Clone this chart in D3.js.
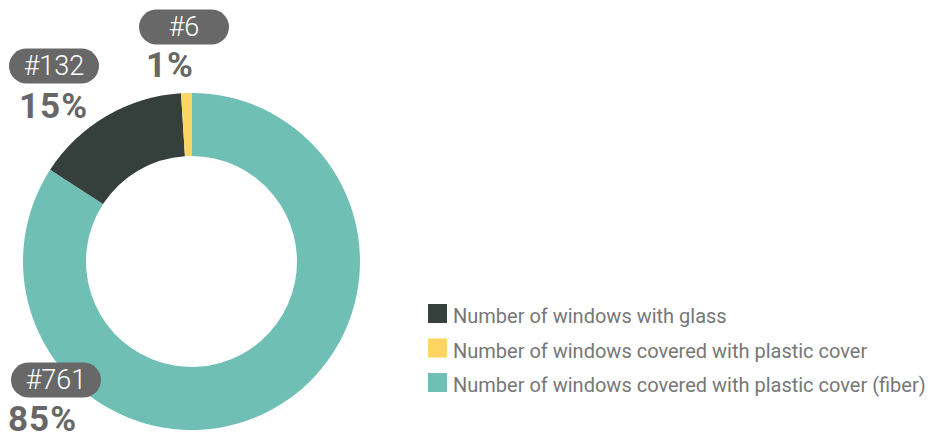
<!DOCTYPE html>
<html>
<head>
<meta charset="utf-8">
<script src="https://cdn.jsdelivr.net/npm/d3@7"></script>
<style>
  html, body { margin: 0; padding: 0; background: #fff; }
  svg { display: block; }
</style>
</head>
<body>
<svg id="chart" width="933" height="437"></svg>
<script>
// Window counts by covering type (drawing order around the ring, clockwise from 12 o'clock)
const categories = [
  "Number of windows covered with plastic cover (fiber)",
  "Number of windows with glass",
  "Number of windows covered with plastic cover"
];
const counts = [761, 132, 6];
const percents = [85, 15, 1];
const colors = ["#6fbfb5", "#353f3c", "#fed462"];

// Legend lists the categories in this order
const legendOrder = [1, 2, 0];

// Where each value label sits (pill centre, percent text start/baseline)
const labelLayout = [
  { pill: [56, 380], pct: [8, 431] },
  { pill: [54, 66], pct: [19, 118] },
  { pill: [184, 27], pct: [146, 77] }
];

const svg = d3.select("#chart");
const cx = 191.5, cy = 261.5, outerR = 168.5, innerR = 105.5;

const pie = d3.pie().sort(null).value(d => d.pct);
const arc = d3.arc().innerRadius(innerR).outerRadius(outerR);

const data = categories.map((c, i) => ({ name: c, count: counts[i], pct: percents[i], color: colors[i] }));

svg.append("g")
  .attr("transform", `translate(${cx},${cy})`)
  .selectAll("path")
  .data(pie(data))
  .join("path")
  .attr("d", arc)
  .attr("fill", d => d.data.color);

// Value labels: grey pill with the count, bold percentage underneath
const pillW = 90, pillH = 35;
const labels = svg.append("g").selectAll("g")
  .data(data)
  .join("g");

labels.append("rect")
  .attr("x", (d, i) => labelLayout[i].pill[0] - pillW / 2)
  .attr("y", (d, i) => labelLayout[i].pill[1] - pillH / 2)
  .attr("width", pillW)
  .attr("height", pillH)
  .attr("rx", pillH / 2)
  .attr("fill", "#676867");

labels.append("text")
  .attr("x", (d, i) => labelLayout[i].pill[0])
  .attr("y", (d, i) => labelLayout[i].pill[1])
  .attr("dy", "0.35em")
  .attr("text-anchor", "middle")
  .attr("font-family", "Roboto, sans-serif")
  .attr("font-weight", 300)
  .attr("font-size", 27)
  .attr("fill", "#ffffff")
  .text(d => "#" + d.count);

labels.append("text")
  .attr("x", (d, i) => labelLayout[i].pct[0])
  .attr("y", (d, i) => labelLayout[i].pct[1])
  .attr("font-family", "Roboto, sans-serif")
  .attr("font-weight", 700)
  .attr("font-size", 35)
  .attr("letter-spacing", 1)
  .attr("fill", "#676767")
  .text(d => d.pct + "%");

// Legend
const legend = svg.append("g").attr("transform", "translate(428,304)");
const rows = legend.selectAll("g")
  .data(legendOrder.map(i => data[i]))
  .join("g")
  .attr("transform", (d, i) => `translate(0,${i * 34.5})`);

rows.append("rect")
  .attr("width", 19)
  .attr("height", 19)
  .attr("fill", d => d.color);

rows.append("text")
  .attr("x", 25)
  .attr("y", 19)
  .attr("font-family", "Roboto, sans-serif")
  .attr("font-size", 20)
  .attr("fill", "#777777")
  .text(d => d.name);
</script>
</body>
</html>
